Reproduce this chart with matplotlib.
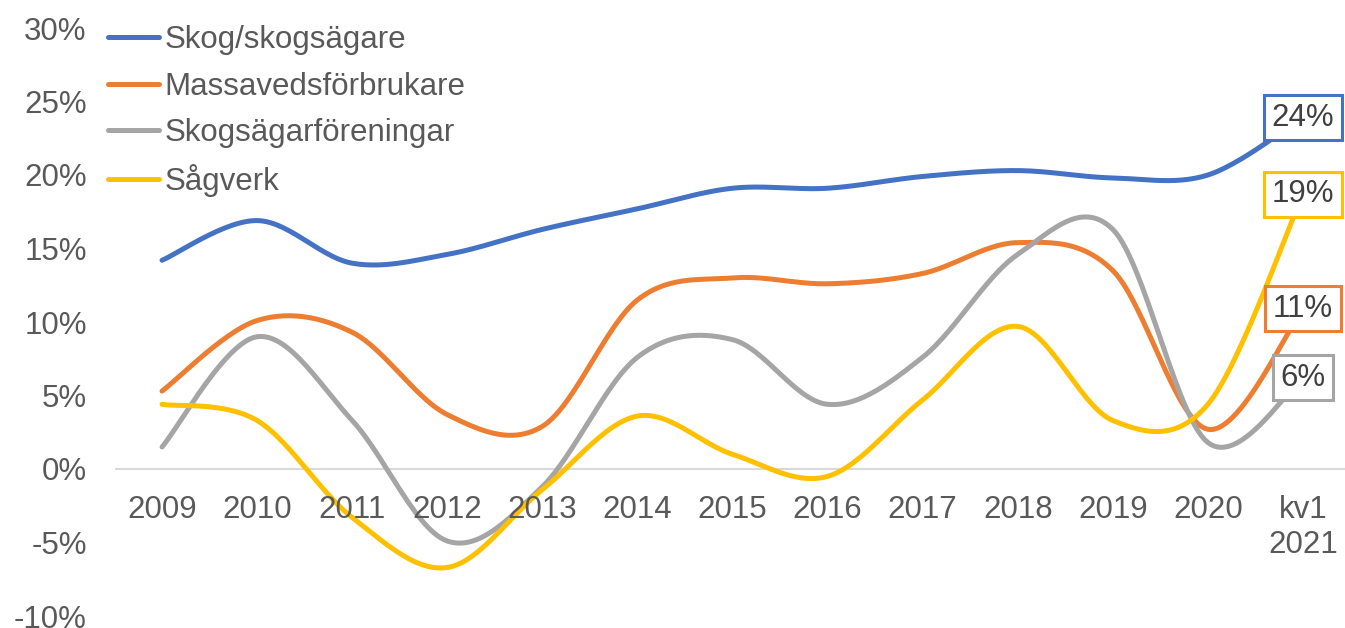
import numpy as np
import matplotlib
matplotlib.use("Agg")
import matplotlib.pyplot as plt

plt.rcParams['font.family'] = ['Liberation Sans', 'DejaVu Sans']

# === Data ===
kategorier = ["2009", "2010", "2011", "2012", "2013", "2014", "2015",
              "2016", "2017", "2018", "2019", "2020", "kv1\n2021"]

skog = [14.2, 16.9, 14.0, 14.6, 16.3, 17.7, 19.1, 19.1, 19.9, 20.3, 19.8, 20.0, 23.9]
massaved = [5.3, 10.1, 9.3, 3.7, 2.9, 11.5, 13.0, 12.6, 13.3, 15.4, 13.5, 2.7, 10.9]
foreningar = [1.5, 9.0, 3.3, -4.9, -1.2, 7.6, 8.8, 4.4, 7.6, 14.6, 16.3, 1.8, 6.2]
sagverk = [4.4, 3.3, -3.3, -6.7, -1.4, 3.6, 1.0, -0.5, 4.7, 9.7, 3.3, 4.4, 18.7]

serier = [
    ("Skog/skogsägare", skog, "#4472c4"),
    ("Massavedsförbrukare", massaved, "#ed7d31"),
    ("Skogsägarföreningar", foreningar, "#a5a5a5"),
    ("Sågverk", sagverk, "#ffc000"),
]

FS = 22.5


# === Excel-like smoothing (Catmull-Rom -> Bezier) ===
def suavizar(x, y, n=30):
    x = np.asarray(x, float)
    y = np.asarray(y, float)
    px = np.concatenate([[x[0]], x, [x[-1]]])
    py = np.concatenate([[y[0]], y, [y[-1]]])
    xs, ys = [], []
    t = np.linspace(0, 1, n)
    for i in range(1, len(x)):
        p0 = np.array([px[i], py[i]])
        p3 = np.array([px[i + 1], py[i + 1]])
        c1 = p0 + (np.array([px[i + 1], py[i + 1]]) - np.array([px[i - 1], py[i - 1]])) / 6
        c2 = p3 - (np.array([px[i + 2], py[i + 2]]) - np.array([px[i], py[i]])) / 6
        b = ((1 - t) ** 3)[:, None] * p0 + (3 * (1 - t) ** 2 * t)[:, None] * c1 \
            + (3 * (1 - t) * t ** 2)[:, None] * c2 + (t ** 3)[:, None] * p3
        xs.append(b[:, 0])
        ys.append(b[:, 1])
    return np.concatenate(xs), np.concatenate(ys)


fig = plt.figure(figsize=(13.45, 6.28), dpi=100)
ax = fig.add_axes([114.5 / 1345, 1 - 616 / 628, 1236 / 1345, 588 / 628])

x = np.arange(len(kategorier))
for nome, vals, cor in serier:
    sx, sy = suavizar(x, vals)
    ax.plot(sx, sy, color=cor, lw=3.6, solid_capstyle='round', label=nome, zorder=3)
    ax.text(x[-1], vals[-1], f"{round(vals[-1]):.0f}%", ha='center', va='center',
            fontsize=FS, color='#404040', zorder=5,
            bbox=dict(boxstyle='square,pad=0.24', fc='white', ec=cor, lw=2.2))

ax.axhline(0, color='#d9d9d9', lw=1.5, zorder=1)
ax.set_xlim(-0.5, len(kategorier) - 0.5)
ax.set_ylim(-10, 30)
ax.set_yticks(np.arange(-10, 31, 5))
ax.set_yticklabels([f"{v}%" for v in range(-10, 31, 5)])
ax.set_xticks([])
for s in ax.spines.values():
    s.set_visible(False)
ax.tick_params(axis='y', length=0, labelsize=FS, labelcolor='#595959', pad=20)

# category labels under the zero line
for i, k in enumerate(kategorier):
    ax.annotate(k, (i, 0), xytext=(0, -19), textcoords='offset points',
                ha='center', va='top', fontsize=FS, color='#595959',
                linespacing=1.2)

leg = ax.legend(loc='upper left', bbox_to_anchor=(-0.0157, 1.026), frameon=False,
                fontsize=FS, labelcolor='#595959', handlelength=1.65,
                handletextpad=0.18, labelspacing=0.525, borderaxespad=0)

fig.savefig("out.png", dpi=100)
